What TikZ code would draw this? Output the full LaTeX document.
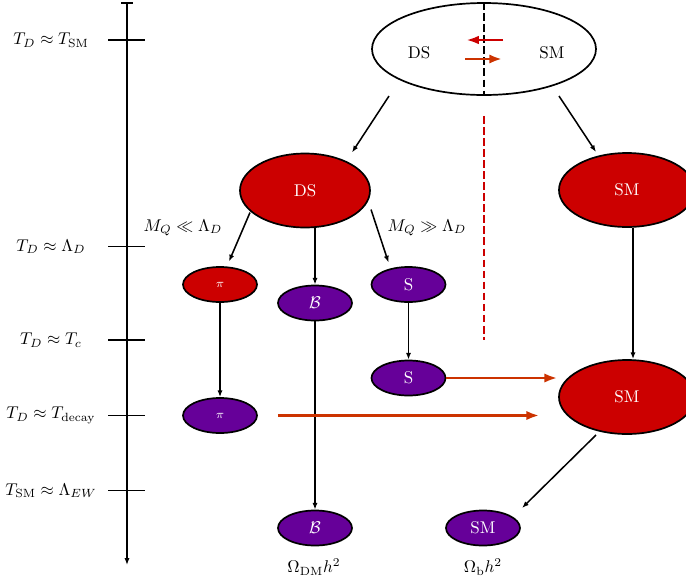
\documentclass[tikz,border=0pt]{standalone}
\usetikzlibrary{shapes.geometric,arrows.meta,calc}
\definecolor{dsred}{RGB}{204,0,0}
\definecolor{dspurple}{RGB}{102,0,153}
\definecolor{dsorange}{RGB}{204,51,0}
\newcommand\pxu{0.588pt}
\begin{document}
\begin{tikzpicture}[x=0.588pt,y=-0.588pt,
  bigred/.style={ellipse, draw=black, line width=1pt, fill=dsred, text=white,
    minimum width=130*\pxu, minimum height=74*\pxu, inner sep=0pt},
  smallnode/.style={ellipse, draw=black, line width=1pt, text=white,
    minimum width=74*\pxu, minimum height=35*\pxu, inner sep=0pt},
  redsmall/.style={smallnode, fill=dsred},
  purplesmall/.style={smallnode, fill=dspurple},
  arr/.style={-{Latex[length=4pt,width=3pt]}, line width=0.9pt},
  flow/.style={-{Latex[length=7.5pt,width=5.5pt]}, line width=1.7pt, draw=dsorange},
  backflow/.style={-{Latex[length=7.5pt,width=5pt]}, line width=1.7pt, draw=dsred},
  tickline/.style={line width=1.1pt},
  divider/.style={line width=1pt, dash pattern=on 4.5pt off 2pt}
]
\useasboundingbox (0,0) rectangle (686,577);

% time axis
\coordinate (axtop) at (127,3);
\coordinate (axbot) at (127,565);
\draw[arr, line width=1pt] (axtop) -- (axbot);
\draw[tickline] ($(axtop)+(-6,0)$) -- ($(axtop)+(6,0)$);
\foreach \nm/\yy/\txt in {
  l1/40/{$T_D \approx T_{\mathrm{SM}}$},
  l2/246.5/{$T_D \approx \Lambda_D$},
  l3/340/{$T_D \approx T_c$},
  l4/415.5/{$T_D \approx T_{\mathrm{decay}}$},
  l5/490.5/{$T_{\mathrm{SM}} \approx \Lambda_{EW}$}} {
  \coordinate (tk\nm) at (127,\yy);
  \draw[tickline] ($(tk\nm)+(-19,0)$) -- ($(tk\nm)+(18,0)$);
  \node (\nm) at (51,\yy) {\txt};
}

% top ellipse
\node[ellipse, draw=black, line width=1pt, minimum width=224*\pxu, minimum height=92*\pxu, inner sep=0pt] (top) at (484,49) {};
\node (tds) at (419,53) {DS};
\node (tsm) at (552,53) {SM};
\draw[divider] (top.north) -- (top.south);
\draw[backflow] ($(top)+(19,-9)$) -- ($(top)+(-18,-9)$);
\draw[flow] ($(top)+(-19,10)$) -- ($(top)+(18,10)$);

% red dashed divider
\coordinate (dashend) at (484,340);
\draw[divider, draw=dsred] ($(top.south)+(0,20)$) -- (dashend);

% nodes
\node[bigred] (ds) at (305,190.5) {DS};
\node[bigred, minimum width=136*\pxu] (sm1) at (627,190) {SM};
\node[redsmall] (pi1) at (220,284.5) {\scriptsize$\pi$};
\node[purplesmall] (b1) at (315,303) {$\mathcal{B}$};
\node[purplesmall] (s1) at (408.5,284.5) {S};
\node[purplesmall] (s2) at (408.5,378) {S};
\node[purplesmall] (pi2) at (220,415.5) {\scriptsize$\pi$};
\node[bigred, minimum width=136*\pxu] (sm2) at (627,397) {SM};
\node[purplesmall] (b2) at (315,528) {$\mathcal{B}$};
\node[purplesmall] (smb) at (483,528) {SM};

% labels
\node (mql) at (183,228) {$M_Q \ll \Lambda_D$};
\node (mqg) at (427,228) {$M_Q \gg \Lambda_D$};
\node (odm) at (314,567) {$\Omega_{\mathrm{DM}} h^2$};
\node (ob) at (483,567) {$\Omega_{\mathrm{b}} h^2$};

% connectors
\draw[arr] ($(top)+(-95,47)$) -- ($(ds)+(47,-38)$);
\draw[arr] ($(top)+(75,47)$) -- ($(sm1)+(-31,-38)$);
\draw[arr] ($(ds)+(-55,22)$) -- ($(pi1)+(9,-23)$);
\draw[arr] (b1.north |- ds.south) -- (b1.north);
\draw[arr] ($(ds)+(66,19)$) -- ($(s1)+(-20,-22)$);
\draw[arr] (s1.south) -- (s2.north);
\draw[arr] (pi1.south) -- (pi2.north);
\draw[arr] ($(sm1.south)+(6,0)$) -- ($(sm2.north)+(6,0)$);
\draw[arr] (b1.south) -- (b2.north);
\draw[arr] ($(sm2)+(-31,38)$) -- ($(smb)+(39,-20)$);
\draw[flow] (s2.east) -- ($(s2.east -| sm2.west)+(-1,0)$);
\draw[flow] ($(pi2.east)+(20,0)$) -- ($(pi2.east -| sm2.west)+(-19,0)$);
\end{tikzpicture}
\end{document}
